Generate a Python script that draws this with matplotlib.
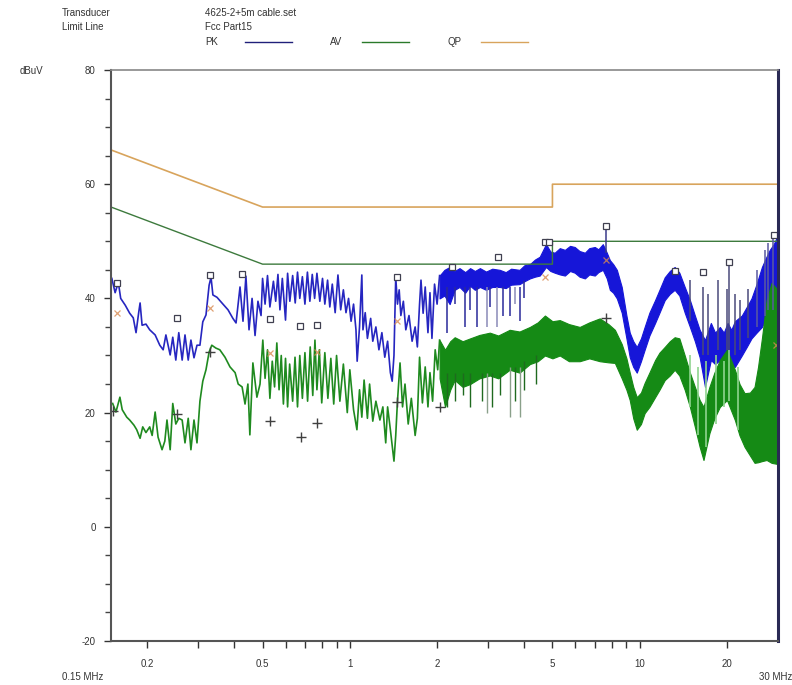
import matplotlib
matplotlib.use("Agg")
from matplotlib import pyplot as plt
import numpy as np

plt.rcParams['font.family'] = ['Liberation Sans', 'DejaVu Sans']
plt.rcParams['axes.unicode_minus'] = False

# limit lines (Fcc Part15)
lim_f = [0.15, 0.5, 5, 5, 30]
qp_lim = [66, 56, 56, 60, 60]
av_lim = [56, 46, 46, 50, 50]

# PK trace, line part up to ~2 MHz
pk_f = [0.151, 0.155, 0.159, 0.162, 0.168, 0.174, 0.179, 0.183, 0.187, 0.189, 0.192, 0.198,
        0.204, 0.213, 0.221, 0.227, 0.232, 0.240, 0.245, 0.251, 0.257, 0.264, 0.270, 0.277,
        0.283, 0.290, 0.297, 0.304, 0.311, 0.319, 0.327, 0.332, 0.337, 0.348, 0.365, 0.380,
        0.395, 0.405, 0.418, 0.428, 0.438, 0.449, 0.460, 0.471, 0.482, 0.494,
        0.50, 0.51, 0.52, 0.53, 0.545, 0.555, 0.565, 0.574, 0.585, 0.60, 0.61, 0.621,
        0.635, 0.648, 0.66, 0.672, 0.686, 0.70, 0.714, 0.728, 0.742, 0.756, 0.770, 0.788,
        0.805, 0.82, 0.838, 0.853, 0.87, 0.89, 0.91, 0.93, 0.95, 0.97, 0.99, 1.01,
        1.03, 1.05, 1.06, 1.08, 1.10, 1.11, 1.13, 1.15, 1.18, 1.20, 1.23, 1.26,
        1.29, 1.32, 1.35, 1.38, 1.40, 1.42, 1.44, 1.46, 1.48, 1.50, 1.53, 1.56,
        1.60, 1.64, 1.68, 1.71, 1.74, 1.76, 1.79, 1.82, 1.86, 1.89, 1.92, 1.96, 2.00, 2.04]
pk_db = [43.5, 41.0, 42.8, 40.0, 38.8, 37.4, 36.6, 34.0, 37.6, 39.2, 35.3, 35.5,
         34.5, 33.6, 31.8, 31.0, 33.6, 30.1, 33.2, 29.2, 34.0, 29.2, 33.6, 29.2,
         32.7, 29.6, 31.8, 31.8, 35.9, 37.1, 42.3, 43.7, 40.6, 40.2, 39.0, 38.0,
         36.5, 35.7, 42.0, 36.0, 43.9, 34.5, 40.0, 33.5, 39.5, 37.0,
         43.5, 39.0, 44.0, 38.5, 43.0, 39.5, 44.2, 38.0, 43.5, 36.2, 44.4, 39.5,
         44.0, 39.2, 44.6, 40.0, 43.8, 39.0, 44.6, 39.5, 44.2, 40.0, 44.4, 39.5,
         43.5, 39.0, 43.2, 38.5, 42.5, 37.5, 44.1, 38.0, 41.5, 37.5, 40.0, 36.0,
         39.0, 34.5, 29.0, 35.0, 44.1, 34.5, 37.5, 33.0, 36.5, 32.5, 35.0, 31.0,
         34.0, 29.7, 32.5, 27.0, 25.5, 30.0, 43.7, 39.0, 41.5, 37.0, 39.5, 34.5,
         37.0, 32.5, 35.0, 31.5, 39.0, 43.2, 37.4, 42.0, 34.0, 41.0, 33.0, 42.5, 39.0, 44.0]

# PK trace, dense part from 2 MHz (upper / lower envelope)
pk_band_f = [2.04, 2.12, 2.21, 2.30, 2.39, 2.50, 2.60, 2.70, 2.81, 2.95, 3.10, 3.29,
             3.45, 3.60, 3.85, 4.00, 4.18, 4.35, 4.52, 4.75, 4.92, 5.09, 5.30, 5.52,
             5.75, 5.97, 6.2, 6.47, 6.7, 7.0, 7.2, 7.46, 7.7, 7.89, 8.1, 8.34,
             8.67, 9.0, 9.24, 9.5, 9.77, 10.1, 10.4, 10.8, 11.3, 11.7, 12.2, 12.7,
             13.2, 13.7, 14.3, 14.9, 15.5, 16.1, 16.8, 17.6, 18.2, 18.9, 19.5, 20.1,
             20.7, 21.3, 22.5, 23.4, 24.3, 25.3, 26.4, 27.2, 28.1, 29.0, 29.9]
pk_band_hi = [44.0, 45.0, 45.5, 44.8, 45.3, 44.6, 45.3, 44.8, 45.3, 44.7, 45.2, 45.0,
              44.6, 45.2, 45.0, 45.8, 46.0, 46.8, 47.3, 49.5, 48.2, 48.0, 48.8, 48.5,
              49.2, 49.0, 48.3, 48.0, 48.8, 49.0, 48.6, 49.5, 48.0, 46.7, 46.0, 45.0,
              42.0, 37.0, 34.0, 32.5, 31.5, 33.0, 35.0, 37.5, 39.7, 41.5, 43.7, 44.8,
              45.5, 44.5, 42.0, 39.7, 37.0, 34.5, 32.7, 35.7, 34.0, 35.0, 34.0, 35.7,
              34.5, 36.0, 37.0, 38.5, 40.0, 42.5, 45.5, 47.0, 48.5, 49.5, 51.0]
pk_band_lo = [40.0, 40.5, 39.0, 41.5, 42.0, 41.0, 42.2, 41.5, 42.0, 41.5, 42.0, 42.0,
              41.8, 42.4, 42.5, 43.0, 43.5, 43.8, 44.0, 45.5, 44.8, 44.5, 44.2, 44.0,
              44.8, 44.5, 43.8, 43.5, 44.2, 44.0, 44.6, 45.0, 43.5, 41.5, 41.0, 40.0,
              37.5, 33.0, 29.7, 28.0, 27.0, 29.0, 31.0, 33.5, 35.7, 37.5, 39.7, 40.8,
              41.5, 40.5, 37.5, 35.0, 32.5, 29.7, 24.5, 29.2, 28.5, 29.2, 28.0, 29.2,
              28.5, 28.0, 30.0, 31.5, 33.0, 34.0, 35.0, 36.5, 38.0, 38.0, 38.0]

# PK single spikes
pk_spk_f = [2.16, 2.30, 2.49, 2.60, 2.74, 2.97, 3.05, 3.21, 3.37, 3.56, 3.70, 3.86, 4.00,
            7.64, 14.9, 16.5, 17.2, 18.6, 20.0, 20.4, 21.3, 22.1, 23.6, 25.3, 27.0, 27.6, 28.8]
pk_spk_lo = [34.0, 39.0, 35.0, 38.0, 35.0, 35.0, 38.5, 35.0, 37.0, 37.0, 39.0, 36.0, 40.0,
             48.0, 36.0, 30.0, 30.0, 31.0, 31.0, 31.0, 30.0, 31.0, 33.0, 35.0, 37.0, 38.0, 38.0]
pk_spk_hi = [42.0, 42.0, 42.0, 42.0, 42.0, 42.0, 42.0, 42.0, 42.0, 42.0, 42.0, 42.0, 43.0,
             52.7, 43.2, 42.0, 40.7, 43.2, 41.7, 46.2, 40.7, 39.7, 41.7, 45.0, 48.5, 49.7, 51.4]
pk_spk_col = ['#2a2a9a', '#2a2a9a', '#2a2a9a', '#2a2a9a', '#2a2a9a', '#8a8ab8', '#2a2a9a',
              '#8a8ab8', '#2a2a9a', '#2a2a9a', '#8a8ab8', '#2a2a9a', '#2a2a9a',
              '#3a3a8a', '#4a4a7a', '#4a4a7a', '#4a4a7a', '#4a4a7a', '#4a4a7a', '#4a4a7a',
              '#4a4a7a', '#4a4a7a', '#4a4a7a', '#5a5aa0', '#5a5aa0', '#5a5aa0', '#5a5aa0']

# AV trace, line part up to ~2 MHz
av_f = [0.152, 0.156, 0.161, 0.164, 0.170, 0.174, 0.180, 0.184, 0.189, 0.193, 0.198, 0.204,
        0.208, 0.213, 0.218, 0.225, 0.230, 0.234, 0.240, 0.245, 0.251, 0.257, 0.264, 0.270,
        0.277, 0.283, 0.290, 0.297, 0.304, 0.311, 0.319, 0.327, 0.334, 0.345, 0.356, 0.371,
        0.386, 0.402, 0.412, 0.425, 0.435, 0.445, 0.452, 0.463, 0.478, 0.490, 0.501,
        0.51, 0.52, 0.53, 0.54, 0.55, 0.56, 0.57, 0.58, 0.59, 0.60, 0.61, 0.62,
        0.635, 0.647, 0.66, 0.672, 0.686, 0.70, 0.715, 0.73, 0.745, 0.758, 0.77, 0.785,
        0.80, 0.82, 0.84, 0.86, 0.88, 0.90, 0.924, 0.95, 0.98, 1.00, 1.03, 1.058,
        1.08, 1.10, 1.12, 1.15, 1.17, 1.20, 1.23, 1.27, 1.30, 1.33, 1.35, 1.38,
        1.42, 1.44, 1.46, 1.49, 1.52, 1.55, 1.59, 1.63, 1.68, 1.71, 1.74, 1.78,
        1.82, 1.86, 1.89, 1.93, 1.97, 2.01, 2.04]
av_db = [21.6, 20.1, 22.7, 20.5, 19.2, 18.7, 17.8, 17.0, 15.5, 17.5, 16.5, 17.5,
         16.0, 20.1, 15.7, 13.5, 15.0, 18.7, 13.5, 21.6, 18.0, 19.0, 18.7, 14.7,
         19.0, 13.5, 18.7, 14.7, 22.0, 25.5, 27.5, 30.6, 31.8, 31.3, 31.0, 29.7,
         28.0, 27.0, 25.0, 24.5, 21.5, 25.0, 16.1, 28.7, 22.7, 25.0, 32.7,
         26.0, 31.0, 22.5, 29.0, 24.5, 32.2, 24.0, 30.0, 21.5, 29.5, 21.0, 28.5,
         22.0, 29.7, 21.0, 30.0, 22.5, 30.5, 22.0, 31.5, 23.0, 32.7, 24.0, 31.0,
         21.7, 30.5, 22.5, 29.5, 21.5, 30.0, 22.0, 28.5, 20.0, 27.5, 20.5, 17.0,
         24.0, 19.2, 25.7, 19.0, 25.0, 18.5, 22.0, 18.7, 21.0, 14.7, 21.0, 17.0,
         11.5, 16.0, 22.0, 28.7, 21.0, 25.0, 18.0, 22.5, 16.0, 19.0, 29.7, 21.7,
         28.0, 21.0, 27.0, 22.0, 31.0, 27.5, 32.7]

# AV trace, dense part from 2 MHz
av_band_f = [2.04, 2.13, 2.22, 2.30, 2.45, 2.60, 2.80, 3.04, 3.25, 3.56, 3.85, 4.18,
             4.45, 4.71, 5.0, 5.30, 5.7, 6.21, 6.7, 7.28, 7.8, 8.21, 8.67, 9.0,
             9.24, 9.5, 9.77, 10.1, 10.4, 10.8, 11.3, 11.7, 12.2, 12.7, 13.2, 13.7,
             14.3, 14.9, 15.5, 16.1, 16.6, 17.4, 18.1, 18.9, 20.0, 21.3, 22.1, 23.0,
             24.0, 24.9, 25.6, 26.4, 27.4, 28.5, 29.9]
av_band_hi = [32.7, 31.0, 32.5, 33.2, 32.5, 33.0, 33.6, 34.0, 33.5, 34.5, 34.2, 35.0,
              35.8, 37.0, 36.0, 36.2, 35.5, 35.0, 35.8, 36.5, 35.5, 34.5, 32.0, 29.5,
              27.0, 24.5, 22.7, 23.5, 25.2, 27.0, 29.2, 30.5, 31.5, 32.5, 33.2, 33.0,
              30.0, 27.0, 24.5, 22.2, 21.0, 24.5, 27.0, 29.2, 31.0, 27.5, 25.0, 23.4,
              23.5, 24.5, 28.0, 33.0, 39.7, 42.7, 41.5]
av_band_lo = [26.0, 21.0, 24.0, 25.7, 24.5, 25.0, 26.0, 26.5, 26.0, 27.5, 27.0, 28.5,
              29.0, 30.0, 29.5, 30.0, 29.0, 29.0, 29.5, 29.0, 28.8, 28.7, 26.0, 24.0,
              22.2, 19.0, 17.0, 18.0, 19.9, 21.0, 22.7, 24.0, 25.7, 26.5, 27.5, 26.5,
              24.0, 21.0, 17.5, 14.0, 11.7, 16.4, 19.0, 21.0, 22.2, 18.7, 16.0, 14.0,
              12.5, 11.2, 11.3, 11.5, 11.7, 11.2, 11.0]

# AV spikes (down around 2-5 MHz, light ones up above 14 MHz)
av_dip_f = [2.16, 2.30, 2.45, 2.60, 2.85, 2.97, 3.10, 3.30, 3.56, 3.70, 3.86, 4.00, 4.40]
av_dip_lo = [21.0, 22.0, 23.0, 21.0, 22.0, 20.0, 21.0, 23.0, 19.2, 22.0, 19.2, 24.0, 25.0]
av_dip_hi = [27.0, 27.0, 27.0, 27.0, 27.0, 27.0, 27.0, 27.0, 28.0, 28.0, 28.0, 29.0, 30.0]
av_dip_col = ['#1f6a1f', '#1f6a1f', '#1f6a1f', '#1f6a1f', '#1f6a1f', '#8aa08a', '#1f6a1f',
              '#1f6a1f', '#8aa08a', '#1f6a1f', '#8aa08a', '#1f6a1f', '#1f6a1f']
av_up_f = [14.9, 15.9, 17.0, 18.3, 19.5, 20.4, 21.8]
av_up_lo = [21.0, 16.0, 14.0, 18.0, 21.0, 22.0, 17.0]
av_up_hi = [30.0, 28.0, 29.0, 30.0, 29.0, 31.0, 28.0]

# final measurement markers
pk_mark_f = [0.157, 0.253, 0.329, 0.424, 0.530, 0.672, 0.770, 1.45, 2.25, 3.24, 4.71, 4.86,
             7.64, 13.2, 16.5, 20.4, 29.0]
pk_mark_db = [42.7, 36.6, 44.1, 44.3, 36.4, 35.2, 35.3, 43.7, 45.5, 47.3, 49.9, 49.9,
              52.7, 44.8, 44.7, 46.4, 51.1]
av_mark_f = [0.153, 0.253, 0.329, 0.530, 0.676, 0.770, 1.46, 2.05, 7.64]
av_mark_db = [20.3, 19.8, 30.6, 18.5, 15.7, 18.2, 21.8, 21.0, 36.6]
qp_mark_f = [0.157, 0.329, 0.530, 0.770, 1.46, 4.71, 7.64, 29.5]
qp_mark_db = [37.5, 38.3, 30.4, 30.7, 36.0, 43.7, 46.7, 31.8]

x_ticks = [0.2, 0.3, 0.4, 0.5, 0.6, 0.7, 0.8, 0.9, 1, 2, 3, 4, 5, 6, 7, 8, 9, 10, 20]
x_labels = ['0.2', '', '', '0.5', '', '', '', '', '1', '2', '', '', '5', '', '', '', '', '10', '20']

blue = '#1616d8'
green = '#158a15'
tan = '#d8a45c'

W, H = 792, 685
fig = plt.figure(figsize=(W / 100, H / 100), dpi=100)
ax = fig.add_axes([111 / W, 1 - 641 / H, 667 / W, 571 / H])

# limits
ax.plot(lim_f, qp_lim, color=tan, lw=1.2)
ax.plot(lim_f, av_lim, color='#3d7a3d', lw=1.0)

# PK
ax.plot(pk_f, pk_db, color='#2626c0', lw=1.2)
ax.fill_between(pk_band_f, pk_band_lo, pk_band_hi, color=blue, lw=0.8)
ax.vlines(pk_spk_f, pk_spk_lo, pk_spk_hi, colors=pk_spk_col, lw=1.1)

# AV
ax.plot(av_f, av_db, color='#1f8a1f', lw=1.2)
ax.vlines(av_up_f, av_up_lo, av_up_hi, colors='#8fd48f', lw=1.2)
ax.fill_between(av_band_f, av_band_lo, av_band_hi, color=green, lw=0.8)
ax.vlines(av_dip_f, av_dip_lo, av_dip_hi, colors=av_dip_col, lw=1.0)

# markers
ax.plot(pk_mark_f, pk_mark_db, 's', ms=4, mfc='white', mec='#404050', mew=0.9)
ax.plot(av_mark_f, av_mark_db, '+', ms=7, color='#404040', mew=1.0)
ax.plot(qp_mark_f, qp_mark_db, 'x', ms=4, color='#d88a50', mew=0.9, alpha=0.8)

ax.set_xscale('log')
ax.set_xlim(0.15, 30)
ax.set_ylim(-20, 80)
ax.set_xticks(x_ticks)
ax.set_xticklabels(x_labels)
ax.xaxis.set_minor_locator(matplotlib.ticker.NullLocator())
ax.set_yticks([-20, 0, 20, 40, 60, 80])
ax.set_yticks(np.arange(-20, 81, 5), minor=True)
ax.tick_params(axis='both', which='major', labelsize=7, colors='#333333', length=5, width=1.0, pad=6)
ax.tick_params(axis='y', which='minor', length=4, width=1.0, colors='#444444')
ax.tick_params(axis='x', which='major', length=5, pad=8)

for s in ['left', 'bottom']:
    ax.spines[s].set_color('#555555')
    ax.spines[s].set_linewidth(1.5)
ax.spines['top'].set_color('#888888')
ax.spines['top'].set_linewidth(1.2)
ax.spines['right'].set_color('#2a2a55')
ax.spines['right'].set_linewidth(2.2)

# header text
def ftext(x, y, s, **kw):
    fig.text(x / W, 1 - y / H, s, fontsize=7, color='#333333', va='center', **kw)

ftext(62, 13, 'Transducer')
ftext(205, 13, '4625-2+5m cable.set')
ftext(62, 27, 'Limit Line')
ftext(205, 27, 'Fcc Part15')
ftext(205, 42, 'PK')
ftext(330, 42, 'AV')
ftext(447, 42, 'QP')
ftext(20, 71, 'dBuV')
ftext(62, 677, '0.15 MHz')
ftext(792, 677, '30 MHz', ha='right')

for x0, c in [(245, '#20207a'), (362, '#2a7a2a'), (481, tan)]:
    fig.add_artist(plt.Line2D([x0 / W, (x0 + 47) / W], [1 - 42 / H] * 2, color=c, lw=1.0))

plt.savefig('out.png', dpi=100)
